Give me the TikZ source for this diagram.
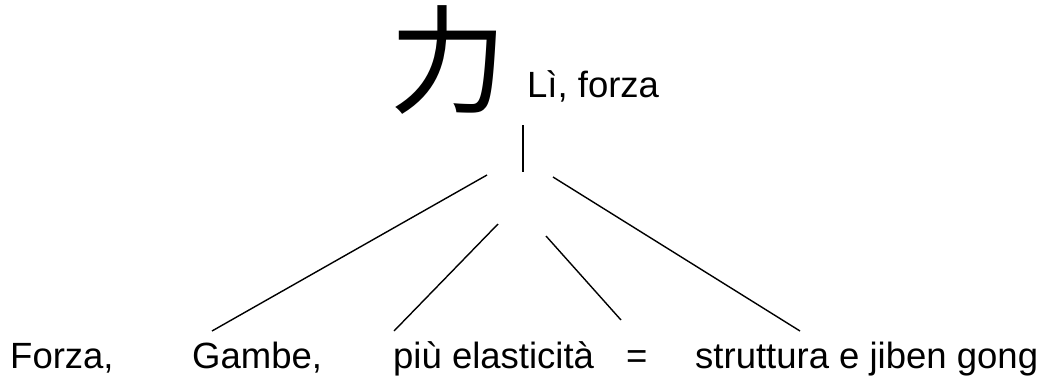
\documentclass[tikz,border=0pt]{standalone}
\usepackage{fontspec}
\setmainfont{Liberation Sans}
\newfontfamily\cjk{Noto Sans CJK SC}
\begin{document}
\begin{tikzpicture}[
x=1pt, y=-1pt,
word/.style={font=\fontsize{36.5}{40}\selectfont, inner sep=0pt, anchor=base west},
link/.style={line width=1.4pt}
]
\useasboundingbox (0,0) rectangle (1045,376);
% character and reading
\node[font=\cjk\fontsize{118}{118}\selectfont, inner sep=0pt] (li) at (448,60) {力};
\node[word] (reading) at (527,97) {Lì, forza};
% words below
\node[word] (forza) at (10,368) {Forza,};
\node[word] (gambe) at (192,368) {Gambe,};
\node[word] (elast) at (393,368) {più elasticità};
\node[word] (eq) at (626,368) {=};
\node[word] (strut) at (695,368) {struttura e jiben gong};
% stem and branches
\coordinate (stemtop) at (523,125);
\coordinate (stembot) at (523,172);
\coordinate (b1) at (487,175);
\coordinate (b2) at (498,224);
\coordinate (b3) at (546,236);
\coordinate (b4) at (553,177);
\coordinate (e1) at (212,331);
\coordinate (e2) at (394,331);
\coordinate (e3) at (621,320);
\coordinate (e4) at (800,331);
\draw[link] (stemtop) -- (stembot);
\draw[link] (b1) -- (e1);
\draw[link] (b2) -- (e2);
\draw[link] (b3) -- (e3);
\draw[link] (b4) -- (e4);
\end{tikzpicture}
\end{document}
